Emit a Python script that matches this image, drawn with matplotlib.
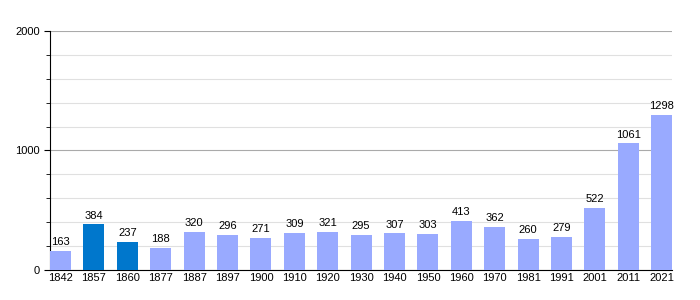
import matplotlib
matplotlib.use("Agg")
import matplotlib.pyplot as plt
from matplotlib.ticker import MultipleLocator

plt.rcParams["font.family"] = ["Liberation Sans", "DejaVu Sans"]

years = ["1842", "1857", "1860", "1877", "1887", "1897", "1900", "1910", "1920",
         "1930", "1940", "1950", "1960", "1970", "1981", "1991", "2001", "2011", "2021"]
population = [163, 384, 237, 188, 320, 296, 271, 309, 321,
              295, 307, 303, 413, 362, 260, 279, 522, 1061, 1298]
highlight = ["1857", "1860"]

LIGHT = "#99aaff"
DARK = "#0077cc"
W = 0.63

fig = plt.figure(figsize=(7, 3), dpi=100)
ax = fig.add_axes([0.0714, 0.1, 0.889, 0.797])

x = list(range(len(years)))
colors = [DARK if y in highlight else LIGHT for y in years]
ax.bar(x, population, width=W, color=colors, zorder=3)

for xi, v in zip(x, population):
    ax.text(xi, v + 30, str(v), ha="center", va="bottom", fontsize=8)

ax.set_xlim(-W / 2, len(years) - 1 + W / 2)
ax.set_ylim(0, 2000)
ax.set_xticks(x)
ax.set_xticklabels(years, fontsize=8)
ax.yaxis.set_major_locator(MultipleLocator(1000))
ax.yaxis.set_minor_locator(MultipleLocator(200))
ax.tick_params(axis="y", labelsize=8, length=4)
ax.tick_params(axis="y", which="minor", length=3)
ax.tick_params(axis="x", length=0, pad=2)

ax.grid(axis="y", which="major", color="#aaaaaa", linewidth=0.8, zorder=0)
ax.grid(axis="y", which="minor", color="#e0e0e0", linewidth=0.8, zorder=0)

for side in ["top", "right"]:
    ax.spines[side].set_visible(False)

fig.savefig("out.png")
